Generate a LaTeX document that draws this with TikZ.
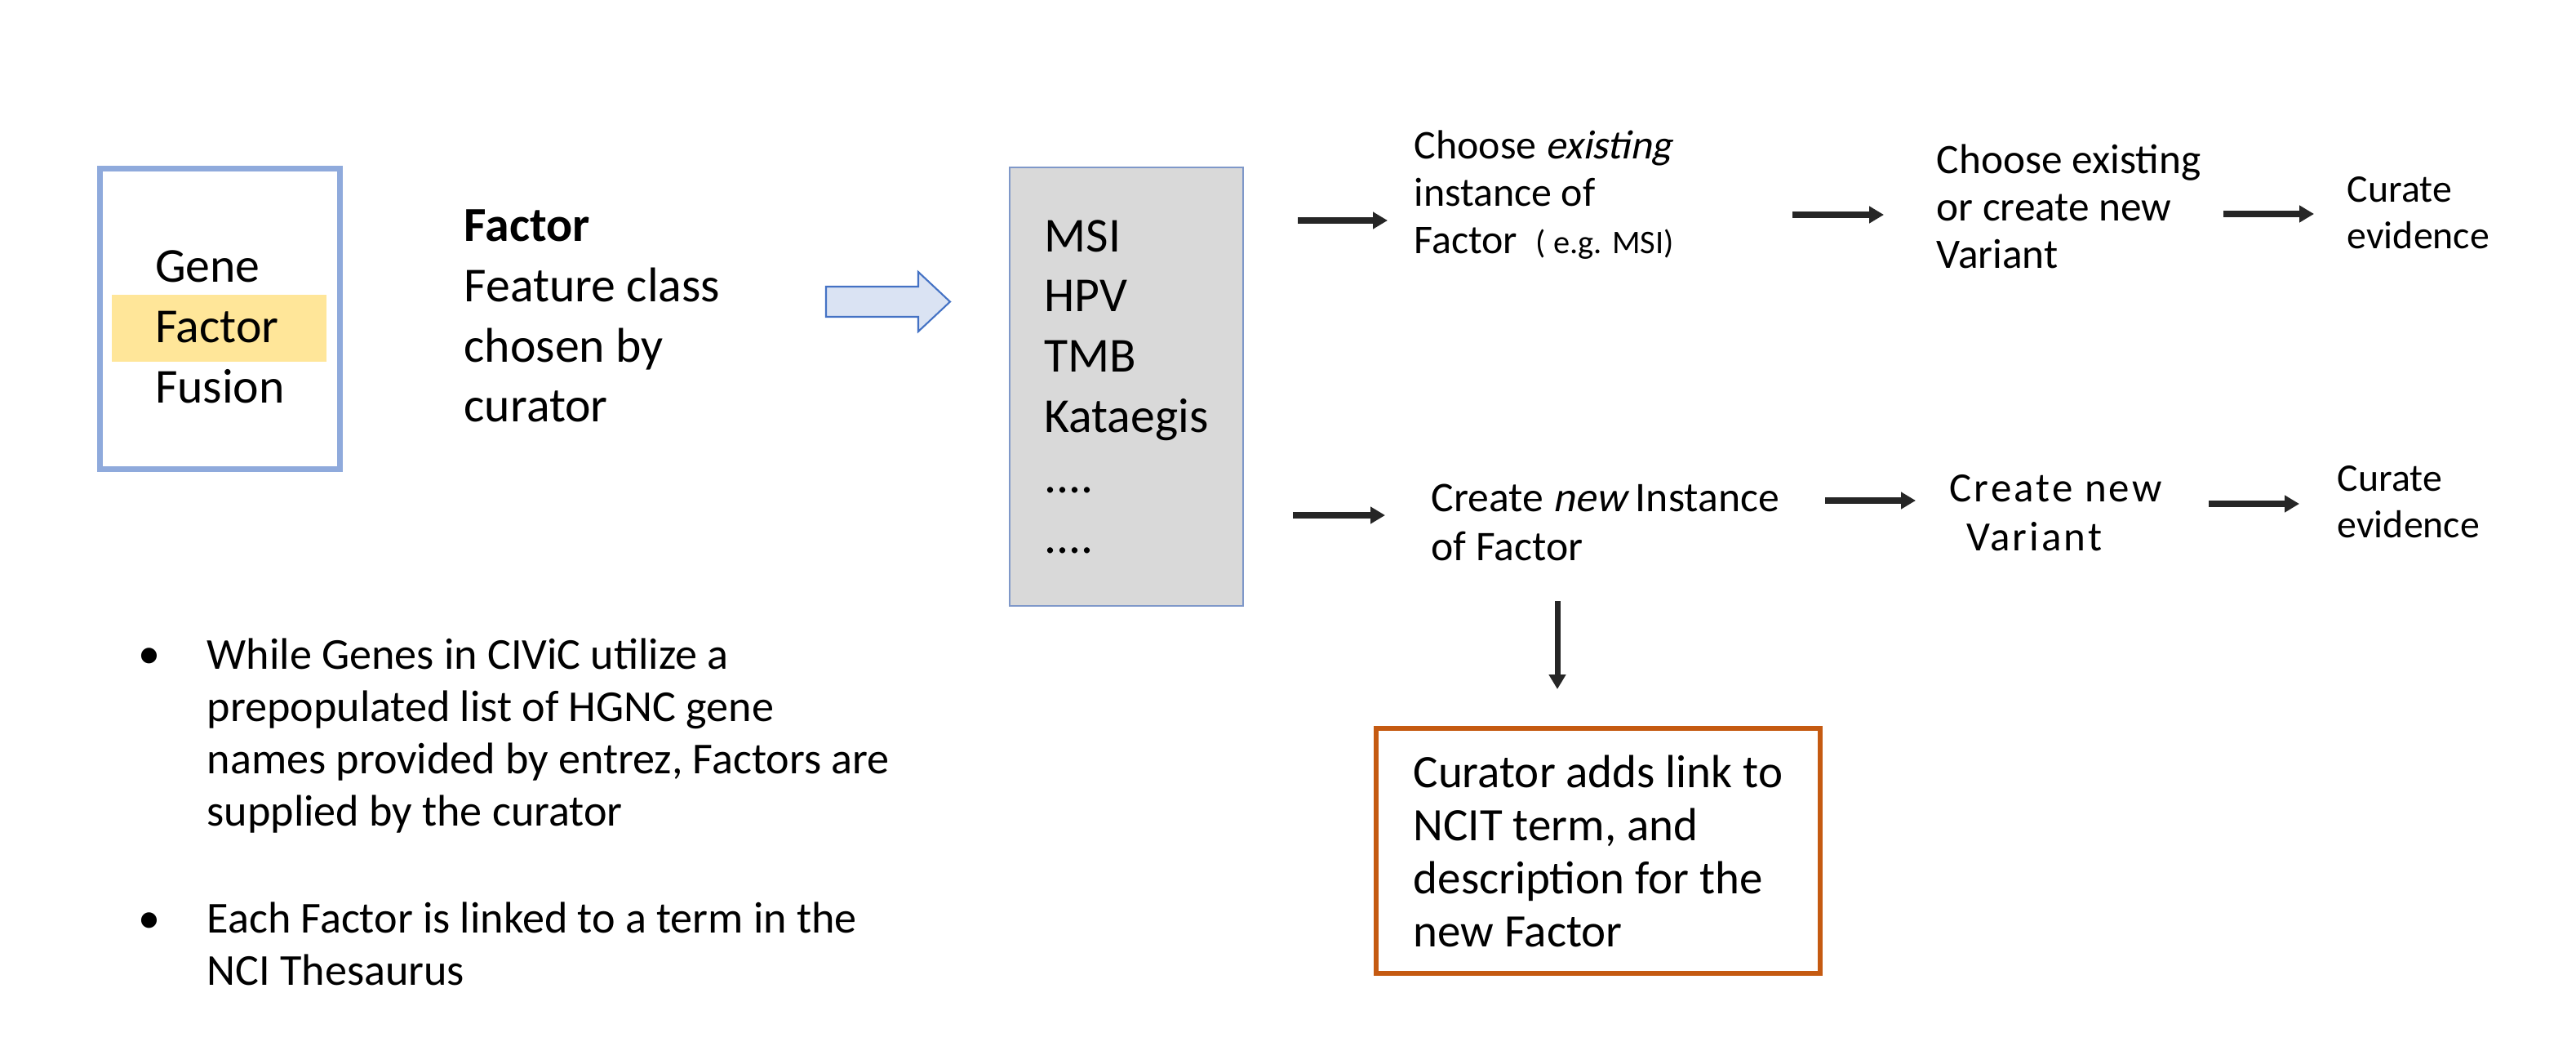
\documentclass[tikz,border=0pt]{standalone}
\usepackage{fontspec}
\setmainfont{Carlito}
\newfontfamily\slantfont[FakeSlant=0.2]{Carlito}
\usepackage{xcolor}
\usepackage{tikz}
\usetikzlibrary{arrows.meta,positioning}

\definecolor{classblue}{HTML}{8FAADC}
\definecolor{factorgold}{HTML}{FFE699}
\definecolor{listgray}{HTML}{D9D9D9}
\definecolor{listedge}{HTML}{7F98C9}
\definecolor{fatfill}{HTML}{DAE3F3}
\definecolor{fatedge}{HTML}{4472C4}
\definecolor{ncitorange}{HTML}{C55A11}
\definecolor{flowgray}{HTML}{262626}

\begin{document}
\begin{tikzpicture}[
			every node/.style={inner sep=0pt},
			bigtext/.style={font=\fontsize{17}{21}\selectfont, align=left},
			notetext/.style={font=\fontsize{15.4}{18.2}\selectfont, align=left},
			steptext/.style={font=\fontsize{14.2}{16.5}\selectfont, align=left},
			curatetext/.style={font=\fontsize{13.6}{16.3}\selectfont, align=left},
			classbox/.style={
				draw=classblue,
				line width=2pt,
				minimum width=2.94cm,
				minimum height=3.68cm
			},
			listbox/.style={
				bigtext,
				draw=listedge,
				fill=listgray,
				line width=0.6pt,
				minimum width=2.86cm,
				minimum height=5.37cm
			},
			ncitbox/.style={
				align=left,
				font=\fontsize{16.2}{18.5}\selectfont,
				draw=ncitorange,
				line width=1.7pt,
				minimum width=5.44cm,
				minimum height=3.0cm
			},
			flow/.style={-{Triangle[length=0.18cm,width=0.2cm]}, draw=flowgray, line width=2pt},
			fatarrow/.style={draw=fatedge, fill=fatfill, line width=0.6pt, line join=miter}
			]
			
			\useasboundingbox (0,0) rectangle (31.56,-13.02);
			
			% ---- Feature classes ----
			\node[fill=factorgold, minimum width=2.63cm, minimum height=0.82cm]
			(factorhl) at (2.685,-4.02) {};
			\node[classbox] (classframe) at (2.695,-3.905) {};
			\node[bigtext, yshift=-0.10cm] (classes) at (classframe.center)
			{Gene\\Factor\\Fusion};
			\node[bigtext, anchor=west] (factorlbl) at (5.68,-3.87)
			{\textbf{Factor}\\Feature class\\chosen by\\curator};
			
			% ---- Fat arrow ----
			\coordinate (fat) at (10.12,-3.695);
			\draw[fatarrow] (fat) ++(0,0.185) -- ++(1.13,0) -- ++(0,0.18)
			-- ++(0.39,-0.365) -- ++(-0.39,-0.365) -- ++(0,0.18) -- ++(-1.13,0) -- cycle;
			
			% ---- Factor list ----
			\node[listbox] (factors) at (13.80,-4.735)
			{MSI\\HPV\\TMB\\Kataegis\\....\\....};
			
			% ---- Existing factor row ----
			\node[steptext, anchor=west] (chooseinst) at (17.32,-2.385)
			{Choose {\slantfont existing}\\instance of\\Factor~~{\fontsize{11.5}{13}\selectfont( e.g. MSI)}};
			\node[steptext, font=\fontsize{14.6}{16.5}\selectfont, anchor=west] (choosevar) at (23.72,-2.53)
			{Choose existing\\or create new\\Variant};
			\node[curatetext, anchor=west] (curatetop) at (28.75,-2.61)
			{Curate\\evidence};
			
			% ---- New factor row ----
			\node[steptext, font=\fontsize{14.7}{17}\selectfont, anchor=west] (createinst) at (17.53,-6.40)
			{Create {\slantfont new} Instance\\of Factor};
			\node[steptext, font=\fontsize{14.5}{17}\selectfont\addfontfeature{LetterSpace=6}, anchor=west]
			(createvar) at (23.88,-6.28)
			{Create new\\\hspace{0.4em}Variant};
			\node[curatetext, anchor=west] (curatebot) at (28.63,-6.15)
			{Curate\\evidence};
			
			% ---- NCIT box ----
			\node[ncitbox] (ncit) at (19.58,-10.42)
			{Curator adds link to\\NCIT term, and\\description for the\\new Factor};
			
			% ---- Notes ----
			\node[notetext, anchor=base] (dotA) at (1.83,-8.18) {\textbullet};
			\node[notetext, anchor=west] (noteA) at (2.53,-9.01)
			{While Genes in CIViC utilize a\\prepopulated list of HGNC gene\\names provided by entrez, Factors are\\supplied by the curator};
			\node[notetext, anchor=base] (dotB) at (1.83,-11.42) {\textbullet};
			\node[notetext, anchor=west] (noteB) at (2.53,-11.56)
			{Each Factor is linked to a term in the\\NCI Thesaurus};
			
			% ---- Arrow starts ----
			\coordinate (topA) at (15.90,-2.70);
			\coordinate (topB) at (21.96,-2.63);
			\coordinate (topC) at (27.24,-2.62);
			\coordinate (botA) at (15.84,-6.31);
			\coordinate (botB) at (22.36,-6.13);
			\coordinate (botC) at (27.06,-6.17);
			\coordinate (down) at (19.08,-7.36);
			
			% ---- Top arrows ----
			\draw[flow, shorten >=0.32cm] (topA) -- (topA -| chooseinst.west);
			\draw[flow, shorten >=0.64cm] (topB) -- (topB -| choosevar.west);
			\draw[flow, shorten >=0.40cm] (topC) -- (topC -| curatetop.west);
			
			% ---- Bottom arrows ----
			\draw[flow, shorten >=0.56cm] (botA) -- (botA -| createinst.west);
			\draw[flow, shorten >=0.41cm] (botB) -- (botB -| createvar.west);
			\draw[flow, shorten >=0.46cm] (botC) -- (botC -| curatebot.west);
			\draw[flow, shorten >=0.45cm] (down) -- (down |- ncit.north);
			
		\end{tikzpicture}
\end{document}
